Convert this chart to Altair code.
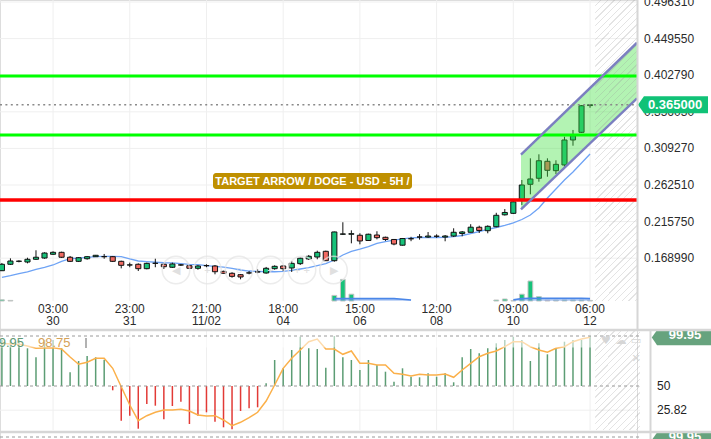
import altair as alt
import pandas as pd

# ------------------------------------------------------------------ data
candle_idx = list(range(70))
opens = [0.1530, 0.1612, 0.1650, 0.1641, 0.1676, 0.1692, 0.1740, 0.1765, 0.1702, 0.1650,
         0.1683, 0.1709, 0.1709, 0.1709, 0.1650, 0.1603, 0.1612, 0.1556, 0.1624, 0.1612,
         0.1574, 0.1603, 0.1594, 0.1561, 0.1594, 0.1590, 0.1522, 0.1497, 0.1479, 0.1501,
         0.1514, 0.1501, 0.1556, 0.1590, 0.1565, 0.1620, 0.1680, 0.1705, 0.1778, 0.1658,
         0.1996, 0.1996, 0.1983, 0.1916, 0.1986, 0.1957, 0.1929, 0.1856, 0.1938, 0.1960,
         0.1960, 0.1970, 0.1960, 0.1973, 0.2005, 0.2021, 0.2085, 0.2041, 0.2092, 0.2244,
         0.2263, 0.2440, 0.2634, 0.2711, 0.2928, 0.2808, 0.2881, 0.3200, 0.3298, 0.3640]
closes = [0.1612, 0.1654, 0.1652, 0.1676, 0.1702, 0.1756, 0.1765, 0.1702, 0.1650, 0.1696,
          0.1709, 0.1727, 0.1710, 0.1650, 0.1599, 0.1604, 0.1556, 0.1624, 0.1625, 0.1581,
          0.1616, 0.1604, 0.1561, 0.1590, 0.1595, 0.1517, 0.1497, 0.1458, 0.1450, 0.1502,
          0.1515, 0.1561, 0.1586, 0.1556, 0.1624, 0.1689, 0.1714, 0.1765, 0.1658, 0.2025,
          0.2000, 0.2003, 0.1910, 0.1996, 0.1952, 0.1929, 0.1871, 0.1941, 0.1939, 0.1961,
          0.1973, 0.1971, 0.1973, 0.2021, 0.2025, 0.2086, 0.2044, 0.2097, 0.2238, 0.2274,
          0.2410, 0.2625, 0.2702, 0.2935, 0.2813, 0.2889, 0.3200, 0.3255, 0.3638, 0.3650]
highs = [0.1629, 0.1688, 0.1663, 0.1696, 0.1791, 0.1765, 0.1778, 0.1773, 0.1718, 0.1705,
         0.1718, 0.1731, 0.1744, 0.1718, 0.1658, 0.1633, 0.1624, 0.1633, 0.1683, 0.1624,
         0.1633, 0.1616, 0.1603, 0.1603, 0.1612, 0.1603, 0.1530, 0.1510, 0.1488, 0.1526,
         0.1548, 0.1578, 0.1599, 0.1603, 0.1654, 0.1696, 0.1731, 0.1786, 0.1786, 0.2029,
         0.2149, 0.2046, 0.2008, 0.2003, 0.2034, 0.1965, 0.1935, 0.1948, 0.1963, 0.1998,
         0.2024, 0.1995, 0.1986, 0.2072, 0.2037, 0.2124, 0.2105, 0.2110, 0.2270, 0.2318,
         0.2440, 0.2689, 0.2966, 0.3017, 0.2966, 0.2941, 0.3242, 0.3328, 0.3647, 0.3655]
lows = [0.1526, 0.1603, 0.1637, 0.1624, 0.1667, 0.1683, 0.1731, 0.1692, 0.1641, 0.1641,
        0.1671, 0.1709, 0.1683, 0.1641, 0.1560, 0.1574, 0.1526, 0.1548, 0.1574, 0.1552,
        0.1565, 0.1590, 0.1552, 0.1543, 0.1574, 0.1484, 0.1492, 0.1441, 0.1420, 0.1484,
        0.1497, 0.1492, 0.1543, 0.1526, 0.1514, 0.1603, 0.1667, 0.1676, 0.1654, 0.1645,
        0.1986, 0.1880, 0.1867, 0.1910, 0.1931, 0.1910, 0.1855, 0.1852, 0.1907, 0.1927,
        0.1950, 0.1950, 0.1906, 0.1961, 0.1970, 0.2021, 0.2012, 0.2008, 0.2085, 0.2235,
        0.2254, 0.2370, 0.2506, 0.2667, 0.2731, 0.2765, 0.2838, 0.3127, 0.3290, 0.3612]
price_ma = [0.1446, 0.1466, 0.1492, 0.1514, 0.1548, 0.1574, 0.1603, 0.1650, 0.1683, 0.1692,
            0.1701, 0.1709, 0.1714, 0.1714, 0.1709, 0.1680, 0.1654, 0.1645, 0.1638, 0.1632,
            0.1629, 0.1620, 0.1612, 0.1607, 0.1594, 0.1586, 0.1577, 0.1561, 0.1539, 0.1526,
            0.1522, 0.1517, 0.1517, 0.1522, 0.1535, 0.1552, 0.1569, 0.1594, 0.1620, 0.1667,
            0.1731, 0.1778, 0.1807, 0.1839, 0.1878, 0.1903, 0.1922, 0.1938, 0.1950, 0.1954,
            0.1954, 0.1954, 0.1957, 0.1965, 0.1980, 0.2005, 0.2031, 0.2057, 0.2082, 0.2108,
            0.2140, 0.2184, 0.2242, 0.2331, 0.2459, 0.2574, 0.2689, 0.2791, 0.2906, 0.3021]
volume = [3, 1.5, 0, 0, 0, 0, 0, 0, 0, 0,
          0, 0, 0, 0, 0, 0, 0, 0, 0, 0,
          0, 0, 0, 0, 0, 0, 0, 0, 0, 0,
          0, 0, 0, 0, 0, 0, 0, 0, 0, 14,
          54, 17, 0, 0, 0, 0, 0, 0, 0, 0,
          0, 0, 0, 0, 0, 0, 0, 0, 2.5, 5,
          1, 17, 50, 11, 2, 2, 2.5, 2.5, 2.5, 1.5]
volume_ma = [None] * 39 + [6, 6, 6, 6, 6, 6, 6, 6, 4.5, 2.5] + [None] * 11 + \
            [3, 6, 6.5, 6.5, 6.5, 6.5, 6.5, 6.5, 6.5, 6]
rsi = [96, 96, 96, 87.7, 78.7, 96, 96, 87.7, 63.7, 75,
       80, 78.7, 76.3, 45.7, 15.3, 20.3, 7.3, 32, 30.3, 16.7,
       30, 34.3, 12, 20.3, 23.7, 14.3, 8.7, 6.7, 25, 27.7,
       28.7, 52.7, 76, 67.7, 86, 99.3, 87.7, 87, 68.3, 100,
       78.7, 76, 66, 76, 71, 64.3, 54.3, 67.7, 59.3, 58.7,
       62.7, 59.3, 62.7, 53.7, 78.7, 87, 82.7, 87.7, 92.7, 96,
       99.3, 96, 75, 92.7, 81.7, 87.7, 94.3, 96, 96, 99.95]
rsi_ma = [92.7, 92, 91.7, 90, 87.7, 88, 88.3, 87, 79, 71.7,
          73.7, 77.7, 77.7, 67.7, 49.3, 31, 15.3, 20.3, 23.7, 26,
          26, 26.7, 25, 21, 20, 20.3, 16, 10.3, 13.7, 18.3,
          23.7, 35, 51, 67.7, 77.7, 86, 94.3, 97, 87, 87,
          81.7, 85, 72.7, 72.7, 71, 71, 62.7, 61.7, 60, 61.7,
          61, 61, 62, 58.7, 66, 72.7, 79.3, 82.7, 85, 89.3,
          94.3, 94.3, 89.3, 86, 83.7, 87.7, 89.3, 94.3, 97, 98.75]

price_ticks = [0.496310, 0.449550, 0.402790, 0.356030, 0.309270, 0.262510, 0.215750, 0.168990]
date_idx = [6, 15, 24, 33, 42, 51, 60, 69]
date_time = ["03:00", "23:00", "21:00", "18:00", "15:00", "12:00", "09:00", "06:00"]
date_day = ["30", "31", "11/02", "04", "06", "08", "10", "12"]
green_levels = [0.4018, 0.3264]
red_levels = [0.2433]
last_price = 0.365
channel_x = [60.9, 74.51]
channel_low = [0.2315, 0.3733]
channel_high = [0.3012, 0.4443]
future_start = 69.6
rsi_last, rsi_ma_last = 99.95, 98.75
rsi_labels = [50, 25.82]
title_text = "TARGET ARROW / DOGE - USD - 5H /"

# ------------------------------------------------------------------ scales / helpers
FONT = "Liberation Sans"
GREEN, RED = "#17c27a", "#f06a62"
XS = alt.Scale(domain=[-0.223, 74.51], range=[0, 637], nice=False, zero=False)
PS = alt.Scale(domain=[0.11430, 0.498865], range=[301, 0], nice=False, zero=False)
VS = alt.Scale(domain=[0, 100], range=[301, 261], nice=False, zero=False)
RS = alt.Scale(domain=[0, 100], range=[436, 336], nice=False, zero=False)


def X(f):
    return alt.X(f, type="quantitative", scale=XS, axis=None)


def Y(f, s):
    return alt.Y(f, type="quantitative", scale=s, axis=None)


def hatch(w, h, period=6.7, line=1.3, color="rgba(150,150,150,0.26)"):
    S = w + h
    b = S / (w * w / h + h)
    a = w / h * b
    clear = "rgba(255,255,255,0)"
    stops = []
    pos = 0.0
    while pos < S - 1e-9:
        t0 = pos / S
        t1 = min((pos + period - line) / S, 1.0)
        t2 = min((pos + period) / S, 1.0)
        stops += [alt.GradientStop(color=clear, offset=t0), alt.GradientStop(color=clear, offset=t1),
                  alt.GradientStop(color=color, offset=t1), alt.GradientStop(color=color, offset=t2)]
        pos += period
    return alt.LinearGradient(gradient="linear", stops=stops, x1=0, y1=0, x2=a, y2=b)


df = pd.DataFrame(dict(idx=candle_idx, o=opens, c=closes, h=highs, l=lows, ma=price_ma,
                       vol=volume, vma=volume_ma, rsi=rsi, rma=rsi_ma))
df["base"] = 50
seg = []
s = 0
prev = None
for v in volume_ma:
    if v is not None and prev is None:
        s += 1
    seg.append(s)
    prev = v
df["vseg"] = seg
df_vma = df[df["vma"].notna()]

df_dates = pd.DataFrame(dict(idx=date_idx, t=date_time, d=date_day))
df_ticks = pd.DataFrame(dict(p=price_ticks, lab=[f"{p:.6f}" for p in price_ticks]))
df_ch = pd.DataFrame(dict(x=channel_x, lo=channel_low, hi=channel_high))
df_edges = pd.DataFrame(dict(x=channel_x * 2, y=channel_low + channel_high,
                             e=["lo", "lo", "hi", "hi"]))

up = "datum.c >= datum.o"
layers = []

# gridlines
layers.append(alt.Chart(df_ticks).mark_rule(color="#efefef", strokeWidth=1).encode(
    y=Y("p", PS), x=alt.value(0), x2=alt.value(637)))
layers.append(alt.Chart(df_dates).mark_rule(color="#efefef", strokeWidth=1).encode(
    x=X("idx"), y=alt.value(0), y2=alt.value(301)))
layers.append(alt.Chart(df_dates).mark_rule(color="#efefef", strokeWidth=1).encode(
    x=X("idx"), y=alt.value(331), y2=alt.value(430)))
layers.append(alt.Chart(pd.DataFrame(dict(v=[25.82]))).mark_rule(color="#efefef").encode(
    y=Y("v", RS), x=alt.value(0), x2=alt.value(640)))

# volume
layers.append(alt.Chart(df).transform_filter("datum.vol > 0").transform_calculate(
    x0="datum.idx - 0.28", x1="datum.idx + 0.28").mark_rect(stroke="#c4c4c4", strokeWidth=1).encode(
    x=X("x0"), x2="x1:Q", y=Y("vol", VS), y2=alt.Y2(datum=0),
    fill=alt.condition(up, alt.value(GREEN), alt.value("#f37a76"))))
layers.append(alt.Chart(df_vma).mark_area(color="#7ea6ec", opacity=0.45).encode(
    x=X("idx"), y=Y("vma", VS), y2=alt.Y2(datum=0), detail="vseg:N"))
layers.append(alt.Chart(df_vma).mark_line(color="#4a86e8", strokeWidth=1.6).encode(
    x=X("idx"), y=Y("vma", VS), detail="vseg:N"))

# moving average
layers.append(alt.Chart(df).mark_line(color="#6ea3f5", strokeWidth=1.3).encode(
    x=X("idx"), y=Y("ma", PS)))

# candles
layers.append(alt.Chart(df).mark_rule(color="#111", strokeWidth=1).encode(
    x=X("idx"), y=Y("l", PS), y2="h:Q"))
layers.append(alt.Chart(df).transform_calculate(
    x0="datum.idx - 0.3", x1="datum.idx + 0.3").mark_rect(stroke="#111", strokeWidth=1).encode(
    x=X("x0"), x2="x1:Q", y=Y("o", PS), y2="c:Q",
    fill=alt.condition(up, alt.value(GREEN), alt.value(RED))))

# channel fill
layers.append(alt.Chart(df_ch).mark_area(color="#40e040", opacity=0.4).encode(
    x=X("x"), y=Y("lo", PS), y2="hi:Q"))

# future hatch (main)
layers.append(alt.Chart(pd.DataFrame(dict(a=[future_start], b=[74.51]))).mark_rect(
    fill=hatch(42, 301)).encode(x=X("a"), x2="b:Q", y=alt.value(0), y2=alt.value(301)))

# level lines
layers.append(alt.Chart(pd.DataFrame(dict(p=green_levels))).mark_rule(color="#00ff00", strokeWidth=3).encode(
    y=Y("p", PS), x=alt.value(0), x2=alt.value(637)))
layers.append(alt.Chart(pd.DataFrame(dict(p=red_levels))).mark_rule(color="#ff0000", strokeWidth=3.5).encode(
    y=Y("p", PS), x=alt.value(0), x2=alt.value(637)))

# channel edges
layers.append(alt.Chart(df_edges).mark_line(color="#7b7fc0", strokeWidth=2.4, clip=True).encode(
    x=X("x"), y=Y("y", PS), detail="e:N"))

# last price dotted line
layers.append(alt.Chart(pd.DataFrame(dict(p=[last_price]))).mark_rule(
    color="#8a8a8a", strokeWidth=1.6, strokeDash=[2, 3.4]).encode(
    y=Y("p", PS), x=alt.value(0), x2=alt.value(637)))

# navigation buttons (UI chrome)
nav = pd.DataFrame(dict(px=[176, 207.5, 239, 270.5, 302, 333.5], g=["◀", "+", "○", "+", "+ +", "▶"]))
layers.append(alt.Chart(nav).mark_point(shape="circle", size=755, filled=False,
                                         stroke="#e4e4e4", strokeWidth=1.5).encode(
    x=alt.X("px:Q", scale=None), y=alt.value(270)))
layers.append(alt.Chart(nav).mark_text(font=FONT, fontSize=11, color="#e0e0e0").encode(
    x=alt.X("px:Q", scale=None), y=alt.value(271), text="g:N"))

# title label box
layers.append(alt.Chart(pd.DataFrame(dict(t=[title_text]))).mark_rect(
    color="#bf9000", cornerRadius=3).encode(
    x=alt.value(213), x2=alt.value(412), y=alt.value(173), y2=alt.value(189)))
layers.append(alt.Chart(pd.DataFrame(dict(t=[title_text]))).mark_text(
    font=FONT, fontSize=11, fontWeight="bold", color="white").encode(
    x=alt.value(312.5), y=alt.value(181.5), text="t:N"))

# price axis labels
layers.append(alt.Chart(df_ticks).mark_text(font=FONT, fontSize=12, color="#2b2b2b", align="left").encode(
    x=alt.value(644), y=Y("p", PS), text="lab:N"))
box_path = "M-1,0 L-0.83,-0.243 L1,-0.243 L1,0.243 L-0.83,0.243 Z"
df_last = pd.DataFrame(dict(p=[last_price], lab=[f"{last_price:.6f}"]))
layers.append(alt.Chart(df_last).mark_point(shape=box_path, size=4900, filled=True,
                                             color="#10c277", opacity=1).encode(
    x=alt.value(673), y=Y("p", PS)))
layers.append(alt.Chart(df_last).mark_text(font=FONT, fontSize=13, fontWeight="bold", color="white").encode(
    x=alt.value(675), y=Y("p", PS), text="lab:N"))

# date labels
layers.append(alt.Chart(df_dates).mark_text(font=FONT, fontSize=12, color="#2b2b2b").encode(
    x=X("idx"), y=alt.value(309), text="t:N"))
layers.append(alt.Chart(df_dates).mark_text(font=FONT, fontSize=12, color="#2b2b2b").encode(
    x=X("idx"), y=alt.value(321), text="d:N"))

# ---------------- RSI panel
layers.append(alt.Chart(pd.DataFrame(dict(a=[future_start], b=[74.86]))).mark_rect(
    fill=hatch(45, 99)).encode(x=X("a"), x2="b:Q", y=alt.value(331), y2=alt.value(430)))
layers.append(alt.Chart(df).transform_filter("datum.rsi >= 50").mark_rule(
    color="#5c9d74", strokeWidth=1.5).encode(x=X("idx"), y=Y("rsi", RS), y2="base:Q"))
layers.append(alt.Chart(df).transform_filter("datum.rsi < 50").mark_rule(
    color="#e23a36", strokeWidth=1.5).encode(x=X("idx"), y=Y("rsi", RS), y2="base:Q"))
layers.append(alt.Chart(df).mark_line(color="#fbb04a", strokeWidth=1.5).encode(
    x=X("idx"), y=Y("rma", RS)))
layers.append(alt.Chart(pd.DataFrame(dict(a=[88.5], b=[99.9]))).mark_rect(
    color="white", opacity=0.55).encode(y=Y("a", RS), y2="b:Q", x=alt.value(0), x2=alt.value(595)))
layers.append(alt.Chart(pd.DataFrame(dict(v=[100, 50]))).mark_rule(
    color="#9a9a9a", strokeWidth=1, strokeDash=[3, 3]).encode(
    y=Y("v", RS), x=alt.value(0), x2=alt.value(640)))
# legend values
layers.append(alt.Chart(pd.DataFrame(dict(v=[f"{rsi_last:.2f}"]))).mark_text(
    font=FONT, fontSize=13, color="#5f9a74", align="right").encode(
    x=alt.value(24), y=alt.value(343), text="v:N"))
layers.append(alt.Chart(pd.DataFrame(dict(v=[f"{rsi_ma_last:.2f}"]))).mark_text(
    font=FONT, fontSize=13, color="#d6a257", align="left").encode(
    x=alt.value(38), y=alt.value(343), text="v:N"))
layers.append(alt.Chart(pd.DataFrame(dict(v=[1]))).mark_rule(color="#999", strokeWidth=1.5).encode(
    x=alt.value(86), y=alt.value(338), y2=alt.value(348)))
# RSI axis labels
layers.append(alt.Chart(pd.DataFrame(dict(v=rsi_labels, lab=["50", "25.82"]))).mark_text(
    font=FONT, fontSize=12, color="#222", align="left").encode(
    x=alt.value(657), y=Y("v", RS), text="lab:N"))
# panel icons
icons = pd.DataFrame(dict(px=[606, 621, 636, 636], py=[341, 341, 341, 359], g=["♥", "☁", "▭", "✕"]))
layers.append(alt.Chart(icons).mark_text(font="DejaVu Sans", fontSize=11, color="#d6d6d6").encode(
    x=alt.X("px:Q", scale=None), y=alt.Y("py:Q", scale=None), text="g:N"))

# ---------------- panel borders
border = "#d6d6d6"
layers.append(alt.Chart(pd.DataFrame(dict(v=[1]))).mark_rule(color=border, strokeWidth=2).encode(
    x=alt.value(637.5), y=alt.value(0), y2=alt.value(330)))
layers.append(alt.Chart(pd.DataFrame(dict(v=[1]))).mark_rule(color=border, strokeWidth=2).encode(
    x=alt.value(650.5), y=alt.value(330), y2=alt.value(439)))
# RSI last value box
layers.append(alt.Chart(pd.DataFrame(dict(v=[rsi_last], lab=[f"{rsi_last:.2f}"]))).mark_point(
    shape=box_path, size=3900, filled=True, color="#67a37e", opacity=1).encode(
    x=alt.value(683), y=Y("v", RS), yOffset=alt.value(1.5)))
layers.append(alt.Chart(pd.DataFrame(dict(v=[rsi_last], lab=[f"{rsi_last:.2f}"]))).mark_text(
    font=FONT, fontSize=13, fontWeight="bold", color="white").encode(
    x=alt.value(685), y=Y("v", RS), yOffset=alt.value(-1.5), text="lab:N"))
# next panel (partially visible)
layers.append(alt.Chart(pd.DataFrame(dict(v=[1]))).mark_rule(
    color="#9a9a9a", strokeWidth=1, strokeDash=[3, 3]).encode(
    y=alt.value(437), x=alt.value(0), x2=alt.value(640)))
layers.append(alt.Chart(pd.DataFrame(dict(v=[1]))).mark_point(
    shape=box_path, size=3900, filled=True, color="#67a37e", opacity=1).encode(
    x=alt.value(683), y=alt.value(440)))
layers.append(alt.Chart(pd.DataFrame(dict(lab=[f"{rsi_last:.2f}"]))).mark_text(
    font=FONT, fontSize=13, fontWeight="bold", color="white").encode(
    x=alt.value(685), y=alt.value(437), text="lab:N"))
layers.append(alt.Chart(pd.DataFrame(dict(v=[1]))).mark_rule(color=border, strokeWidth=2.5).encode(
    y=alt.value(330), x=alt.value(0), x2=alt.value(711)))
layers.append(alt.Chart(pd.DataFrame(dict(v=[1]))).mark_rule(color=border, strokeWidth=2.5).encode(
    y=alt.value(432), x=alt.value(0), x2=alt.value(711)))

chart = alt.layer(*layers).resolve_scale(y="independent").properties(
    width=637, height=439,
    autosize=alt.AutoSizeParams(type="none"),
    padding={"left": 0, "right": 74, "top": 0, "bottom": 0},
).configure_view(stroke=None).configure(background="white")

chart.save("out.html", embed_options={"renderer": "svg", "actions": False})
